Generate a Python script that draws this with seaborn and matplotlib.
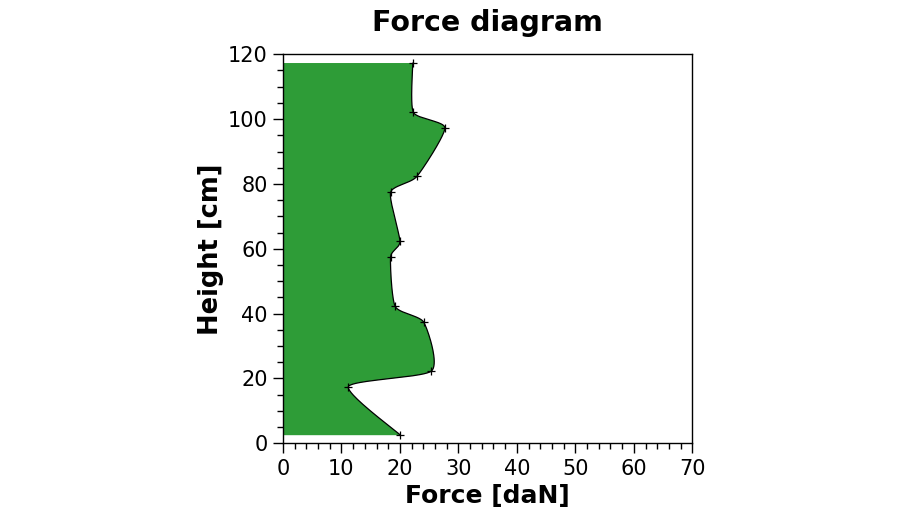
import numpy as np
import pandas as pd
import matplotlib
matplotlib.use('Agg')
import matplotlib.pyplot as plt
import seaborn as sns
from matplotlib.ticker import MultipleLocator

heights = [2.5, 17.5, 22.3, 37.3, 42.2, 57.4, 62.3, 77.4, 82.3, 97.3, 102.1, 117.3]
forces = [20.1, 11.2, 25.4, 24.1, 19.2, 18.4, 20.0, 18.4, 22.9, 27.7, 22.3, 22.2]


def smooth_outline(px, py, steps=40, s=0.32):
    # cardinal spline through the points (some tension, little overshoot)
    P = np.column_stack([px, py]).astype(float)
    n = len(P)
    T = np.zeros_like(P)
    T[1:-1] = s * (P[2:] - P[:-2])
    T[0] = s * (P[1] - P[0])
    T[-1] = s * (P[-1] - P[-2])
    t = np.linspace(0, 1, steps)[:, None]
    h00 = 2 * t**3 - 3 * t**2 + 1
    h10 = t**3 - 2 * t**2 + t
    h01 = -2 * t**3 + 3 * t**2
    h11 = t**3 - t**2
    segs = []
    for i in range(n - 1):
        seg = h00 * P[i] + h10 * T[i] + h01 * P[i + 1] + h11 * T[i + 1]
        segs.append(seg if i == 0 else seg[1:])
    out = np.vstack(segs)
    return out[:, 0], out[:, 1]


df = pd.DataFrame({'height': heights, 'force': forces})
cx, cy = smooth_outline(forces, heights)
curve = pd.DataFrame({'force': cx, 'height': cy})

sns.set_style('white')
plt.rcParams['font.family'] = ['DejaVu Sans']
plt.rcParams['text.color'] = 'black'
plt.rcParams['axes.labelcolor'] = 'black'
plt.rcParams['xtick.color'] = 'black'
plt.rcParams['ytick.color'] = 'black'

fig = plt.figure(figsize=(9, 5.12), dpi=100)
ax = fig.add_axes([0.3144, 0.1342, 0.4548, 0.7598])

poly_x = np.concatenate([[0], cx, [0]])
poly_y = np.concatenate([[cy[0]], cy, [cy[-1]]])
ax.fill(poly_x, poly_y, color='#2e9c37', lw=0)
sns.lineplot(data=curve, x='force', y='height', sort=False, estimator=None,
             color='black', lw=0.9, ax=ax)
ax.plot(df['force'], df['height'], ls='none', marker='+', color='black',
        ms=6, mew=0.9)

ax.set_xlim(0, 70)
ax.set_ylim(0, 120)
ax.xaxis.set_major_locator(MultipleLocator(10))
ax.xaxis.set_minor_locator(MultipleLocator(2))
ax.yaxis.set_major_locator(MultipleLocator(20))
ax.yaxis.set_minor_locator(MultipleLocator(5))
ax.tick_params(which='both', direction='out', bottom=True, left=True,
               color='black', width=1)
ax.tick_params(which='major', length=7, labelsize=15, pad=4)
ax.tick_params(which='minor', length=4.5)
for s in ax.spines.values():
    s.set_color('black')
    s.set_linewidth(1)

ax.set_xlabel('Force [daN]', fontsize=18, fontweight='bold', labelpad=4)
ax.set_ylabel('Height [cm]', fontsize=18.5, fontweight='bold', labelpad=3)
ax.set_title('Force diagram', fontsize=20.5, fontweight='bold', pad=17)

fig.savefig('out.png', dpi=100)
